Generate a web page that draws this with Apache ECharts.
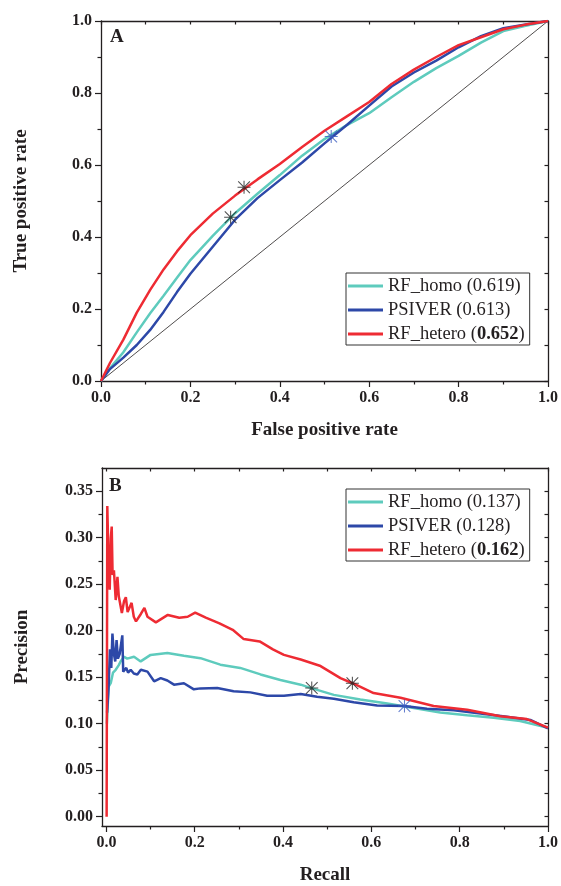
<!DOCTYPE html>
<html>
<head>
<meta charset="utf-8">
<title>ROC and PR curves</title>
<script src="https://cdn.jsdelivr.net/npm/echarts@6/dist/echarts.min.js"></script>
<style>
  html, body { margin: 0; padding: 0; background: #fff; }
  #chart { width: 561px; height: 886px; }
</style>
</head>
<body>
<div id="chart"></div>
<script>
// ---- data ----
var seriesNames = ['RF_homo', 'PSIVER', 'RF_hetero'];
var rocAuc = ['0.619', '0.613', '0.652'];
var prAuc = ['0.137', '0.128', '0.162'];

// panel A: ROC, shared FPR grid
var rocFpr = [0, 0.02, 0.05, 0.08, 0.11, 0.14, 0.17, 0.2, 0.25, 0.3, 0.35, 0.4, 0.45, 0.5, 0.55, 0.6, 0.65, 0.7, 0.75, 0.8, 0.85, 0.9, 0.95, 1.0];
var rocHomo = [0, 0.035, 0.08, 0.135, 0.188, 0.237, 0.287, 0.336, 0.403, 0.466, 0.52, 0.572, 0.626, 0.672, 0.711, 0.744, 0.788, 0.831, 0.869, 0.903, 0.94, 0.972, 0.987, 1.0];
var rocPsiver = [0, 0.033, 0.065, 0.1, 0.142, 0.192, 0.247, 0.298, 0.373, 0.448, 0.508, 0.558, 0.607, 0.66, 0.711, 0.765, 0.818, 0.857, 0.89, 0.927, 0.958, 0.98, 0.99, 1.0];
var rocHetero = [0, 0.05, 0.115, 0.19, 0.253, 0.31, 0.36, 0.405, 0.465, 0.515, 0.56, 0.603, 0.65, 0.695, 0.735, 0.775, 0.825, 0.865, 0.9, 0.933, 0.955, 0.977, 0.99, 1.0];
var rocStarsBlack = [[0.32, 0.538], [0.29, 0.455]];
var rocStarsBlue = [[0.515, 0.679]];

// panel B: precision-recall, [recall, precision]
var prHomo = [[0.001, 0.10], [0.005, 0.14], [0.01, 0.144], [0.015, 0.155], [0.021, 0.158], [0.028, 0.163], [0.032, 0.167], [0.04, 0.172], [0.047, 0.17], [0.0625, 0.172], [0.0776, 0.167], [0.1, 0.174], [0.138, 0.176], [0.1755, 0.173], [0.213, 0.1705], [0.258, 0.1635], [0.303, 0.16], [0.349, 0.153], [0.394, 0.147], [0.44, 0.142], [0.462, 0.1385], [0.515, 0.131], [0.575, 0.126], [0.636, 0.1217], [0.696, 0.117], [0.756, 0.112], [0.817, 0.109], [0.877, 0.1065], [0.937, 0.103], [1.0, 0.0957]];
var prPsiver = [[0.0015, 0.112], [0.005, 0.14], [0.008, 0.18], [0.011, 0.16], [0.0136, 0.197], [0.017, 0.175], [0.02, 0.167], [0.023, 0.19], [0.026, 0.17], [0.03, 0.175], [0.036, 0.195], [0.038, 0.156], [0.045, 0.16], [0.049, 0.155], [0.055, 0.158], [0.062, 0.154], [0.07, 0.153], [0.078, 0.158], [0.093, 0.156], [0.108, 0.1456], [0.123, 0.149], [0.138, 0.1465], [0.153, 0.142], [0.1755, 0.1435], [0.198, 0.137], [0.213, 0.138], [0.251, 0.1385], [0.288, 0.135], [0.326, 0.1337], [0.364, 0.13], [0.402, 0.13], [0.44, 0.132], [0.477, 0.129], [0.515, 0.1268], [0.56, 0.123], [0.613, 0.1196], [0.674, 0.119], [0.726, 0.116], [0.787, 0.1146], [0.847, 0.111], [0.907, 0.1075], [0.96, 0.104], [1.0, 0.095]];
var prHetero = [[0.0005, 0], [0.002, 0.334], [0.005, 0.27], [0.0075, 0.244], [0.01, 0.30], [0.012, 0.312], [0.014, 0.26], [0.017, 0.265], [0.021, 0.233], [0.025, 0.258], [0.028, 0.237], [0.035, 0.219], [0.04, 0.232], [0.044, 0.236], [0.048, 0.22], [0.052, 0.2205], [0.057, 0.23], [0.062, 0.215], [0.067, 0.21], [0.078, 0.218], [0.086, 0.2245], [0.093, 0.215], [0.112, 0.209], [0.139, 0.217], [0.165, 0.214], [0.184, 0.215], [0.201, 0.2195], [0.225, 0.214], [0.256, 0.208], [0.286, 0.201], [0.311, 0.191], [0.347, 0.1885], [0.377, 0.18], [0.402, 0.174], [0.44, 0.169], [0.485, 0.162], [0.53, 0.149], [0.56, 0.143], [0.605, 0.133], [0.666, 0.128], [0.741, 0.119], [0.817, 0.115], [0.892, 0.108], [0.952, 0.105], [1.0, 0.0957]];
var prStarsBlack = [[0.465, 0.1385], [0.557, 0.1435]];
var prStarsBlue = [[0.675, 0.119]];

// ticks
var unitMajor = [0, 0.2, 0.4, 0.6, 0.8, 1.0];
var unitMinor = [0.1, 0.3, 0.5, 0.7, 0.9];
var unitAll = [0, 0.1, 0.2, 0.3, 0.4, 0.5, 0.6, 0.7, 0.8, 0.9, 1.0];
var precMajor = [0, 0.05, 0.10, 0.15, 0.20, 0.25, 0.30, 0.35];
var precMinor = [0.025, 0.075, 0.125, 0.175, 0.225, 0.275, 0.325];
var precAll = [0, 0.025, 0.05, 0.075, 0.10, 0.125, 0.15, 0.175, 0.20, 0.225, 0.25, 0.275, 0.30, 0.325, 0.35];

// ---- styles ----
var SERIF = "'Liberation Serif', 'Times New Roman', serif";
var INK = '#231f20';
var colors = ['#5ecbbd', '#2d48a8', '#ee2b33'];
var ASTERISK = 'path://M9.2 0H10.8V20H9.2Z M0 9.2H20V10.8H0Z ' +
  'M1.566 0.434L19.566 18.434L18.434 19.566L0.434 1.566Z ' +
  'M18.434 0.434L19.566 1.566L1.566 19.566L0.434 18.434Z';

function zip(xs, ys) {
  return xs.map(function (x, i) { return [x, ys[i]]; });
}

function mainAxis(grid, pos, min, max, majors, digits, name, nameGap) {
  return {
    type: 'value', gridIndex: grid, position: pos, min: min, max: max,
    name: name, nameLocation: 'middle', nameGap: nameGap,
    nameTextStyle: { fontFamily: SERIF, fontSize: 19, fontWeight: 'bold', color: INK },
    axisLine: { show: true, onZero: false, lineStyle: { color: INK, width: 1.3 } },
    axisTick: { show: true, length: 6, customValues: majors, lineStyle: { color: INK, width: 1.2 } },
    axisLabel: {
      show: true, customValues: majors, margin: 9,
      formatter: function (v) { return v.toFixed(digits); },
      fontFamily: SERIF, fontSize: 16, fontWeight: 'bold', color: INK
    },
    splitLine: { show: false }
  };
}
function minorAxis(grid, pos, min, max, minors) {
  return {
    type: 'value', gridIndex: grid, position: pos, min: min, max: max,
    axisLine: { show: false, onZero: false },
    axisTick: { show: true, length: 3.5, customValues: minors, lineStyle: { color: INK, width: 1.2 } },
    axisLabel: { show: false }, splitLine: { show: false }
  };
}
function mirrorAxis(grid, pos, min, max, all) {
  return {
    type: 'value', gridIndex: grid, position: pos, min: min, max: max,
    axisLine: { show: true, onZero: false, lineStyle: { color: INK, width: 1.3 } },
    axisTick: { show: true, inside: true, length: 3.5, customValues: all, lineStyle: { color: INK, width: 1.2 } },
    axisLabel: { show: false }, splitLine: { show: false }
  };
}

function legendFor(top, auc) {
  return {
    left: 346, top: top, orient: 'vertical', data: seriesNames,
    icon: 'rect', itemWidth: 35, itemHeight: 3, itemGap: 4,
    backgroundColor: '#fff', borderColor: '#333', borderWidth: 1,
    padding: [3, 5, 1, 2], selectedMode: false,
    formatter: function (n) {
      var i = seriesNames.indexOf(n);
      return i === 2 ? n + ' ({b|' + auc[i] + '})' : n + ' (' + auc[i] + ')';
    },
    textStyle: {
      fontFamily: SERIF, fontSize: 18.5, color: INK, lineHeight: 20,
      rich: { b: { fontFamily: SERIF, fontSize: 18.5, fontWeight: 'bold', color: INK, lineHeight: 20 } }
    }
  };
}

function curve(name, idx, axis, data) {
  return {
    type: 'line', name: name, xAxisIndex: axis, yAxisIndex: axis, data: data,
    symbol: 'none', z: 3 + idx,
    lineStyle: { width: 2.5, color: colors[idx] }, itemStyle: { color: colors[idx] }
  };
}
function stars(axis, data, color) {
  return {
    type: 'scatter', name: 'marker', xAxisIndex: axis, yAxisIndex: axis, data: data,
    symbol: ASTERISK, symbolSize: 13, z: 10, itemStyle: { color: color }
  };
}

var option = {
  animation: false,
  backgroundColor: '#fff',
  title: [
    { text: 'A', left: 110, top: 28, padding: 0, textStyle: { fontFamily: SERIF, fontSize: 19, fontWeight: 'bold', color: INK } },
    { text: 'B', left: 109, top: 477, padding: 0, textStyle: { fontFamily: SERIF, fontSize: 19, fontWeight: 'bold', color: INK } }
  ],
  grid: [
    { left: 101, right: 13, top: 21, height: 360 },
    { left: 102, right: 13, top: 468, height: 359 }
  ],
  legend: [legendFor(273, rocAuc), legendFor(489, prAuc)],
  xAxis: [
    mainAxis(0, 'bottom', 0, 1, unitMajor, 1, 'False positive rate', 40),
    minorAxis(0, 'bottom', 0, 1, unitMinor),
    mirrorAxis(0, 'top', 0, 1, unitAll),
    mainAxis(1, 'bottom', -0.01, 1, unitMajor, 1, 'Recall', 40),
    minorAxis(1, 'bottom', -0.01, 1, unitMinor),
    mirrorAxis(1, 'top', -0.01, 1, unitAll)
  ],
  yAxis: [
    mainAxis(0, 'left', 0, 1, unitMajor, 1, 'True positive rate', 70),
    minorAxis(0, 'left', 0, 1, unitMinor),
    mirrorAxis(0, 'right', 0, 1, unitAll),
    mainAxis(1, 'left', -0.01, 0.375, precMajor, 2, 'Precision', 70),
    minorAxis(1, 'left', -0.01, 0.375, precMinor),
    mirrorAxis(1, 'right', -0.01, 0.375, precAll)
  ],
  series: [
    {
      type: 'line', name: 'diagonal', xAxisIndex: 0, yAxisIndex: 0,
      data: [[0, 0], [1, 1]], symbol: 'none', z: 2,
      lineStyle: { width: 0.8, color: INK }
    },
    curve('RF_homo', 0, 0, zip(rocFpr, rocHomo)),
    curve('PSIVER', 1, 0, zip(rocFpr, rocPsiver)),
    curve('RF_hetero', 2, 0, zip(rocFpr, rocHetero)),
    stars(0, rocStarsBlack, '#222'),
    stars(0, rocStarsBlue, '#3b5cc0'),
    curve('RF_homo', 0, 3, prHomo),
    curve('PSIVER', 1, 3, prPsiver),
    curve('RF_hetero', 2, 3, prHetero),
    stars(3, prStarsBlack, '#222'),
    stars(3, prStarsBlue, '#3b5cc0')
  ]
};

var chart = echarts.init(document.getElementById('chart'));
chart.setOption(option);
</script>
</body>
</html>
